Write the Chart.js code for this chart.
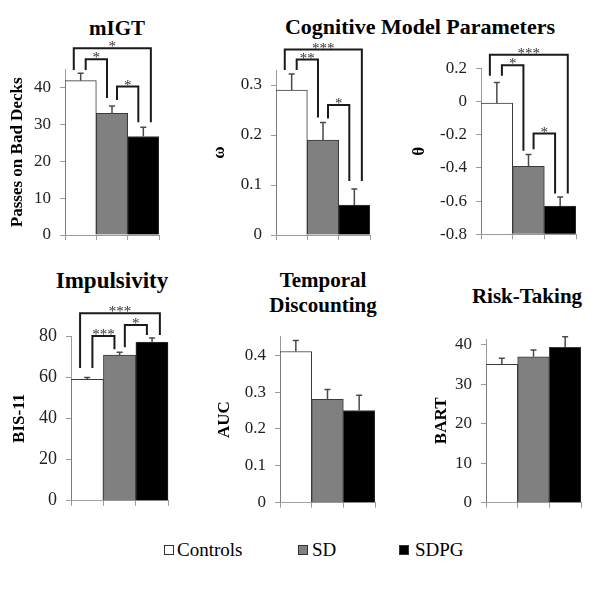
<!DOCTYPE html>
<html>
<head>
<meta charset="utf-8">
<script src="https://cdn.jsdelivr.net/npm/chart.js@4.4.0/dist/chart.umd.min.js"></script>
<style>
body { margin: 0; background: #fff; }
#page { position: relative; width: 600px; height: 600px; font-family: "Liberation Serif", "Times New Roman", serif; overflow: hidden; }
canvas { position: absolute; }
.title { position: absolute; font-weight: bold; color: #000; white-space: nowrap; line-height: 1; transform: translateX(-50%); }
.legtext { position: absolute; font-size: 19px; line-height: 1; color: #000; }
.swatch { position: absolute; width: 8px; height: 8px; border: 1px solid #333; }
</style>
</head>
<body>
<div id="page">
  <div class="title" style="left:117px; top:18px; font-size:21px;">mIGT</div>
  <div class="title" style="left:420px; top:16px; font-size:22px;">Cognitive Model Parameters</div>
  <div class="title" style="left:112px; top:269px; font-size:23px;">Impulsivity</div>
  <div class="title" style="left:323px; top:270px; font-size:21px;">Temporal</div>
  <div class="title" style="left:323px; top:295px; font-size:21px;">Discounting</div>
  <div class="title" style="left:527px; top:286px; font-size:21px;">Risk-Taking</div>

  <canvas id="igt"></canvas>
  <canvas id="omega"></canvas>
  <canvas id="theta"></canvas>
  <canvas id="bis"></canvas>
  <canvas id="auc"></canvas>
  <canvas id="bart"></canvas>

  <div class="swatch" style="left:164px; top:545px; background:#fff;"></div>
  <div class="legtext" style="left:177px; top:540px;">Controls</div>
  <div class="swatch" style="left:298px; top:545px; background:#808080;"></div>
  <div class="legtext" style="left:312px; top:540px;">SD</div>
  <div class="swatch" style="left:399px; top:545px; background:#000;"></div>
  <div class="legtext" style="left:415px; top:540px;">SDPG</div>
</div>

<script>
const groups = ['Controls', 'SD', 'SDPG'];
const barColors = ['#ffffff', '#808080', '#000000'];

// mIGT
const igtMeans = [42, 33.1, 26.8];
const igtErrors = [2.0, 2.0, 2.5];
const igtTicks = [0, 10, 20, 30, 40];
const igtRange = [0, 45];
const igtBrackets = [[0, 2, 50.8, 44.9, 30.7, '*'], [0, 1, 47.8, 44.9, 37.3, '*'], [1, 2, 40.4, 36.7, 30.7, '*']];

// omega
const omegaMeans = [0.29, 0.19, 0.06];
const omegaErrors = [0.032, 0.035, 0.032];
const omegaTicks = [0, 0.1, 0.2, 0.3];
const omegaRange = [0, 0.33];
const omegaBrackets = [[0, 2, 0.371, 0.33, 0.108, '***'], [0, 1, 0.351, 0.33, 0.235, '**'], [1, 2, 0.26, 0.233, 0.108, '*']];

// theta
const thetaMeans = [-0.01, -0.39, -0.63];
const thetaErrors = [0.125, 0.07, 0.055];
const thetaTicks = [-0.8, -0.6, -0.4, -0.2, 0, 0.2];
const thetaRange = [-0.8, 0.2];
const thetaBrackets = [[0, 2, 0.281, 0.155, -0.554, '***'], [0, 1, 0.219, 0.155, -0.297, '*'], [1, 2, -0.193, -0.287, -0.554, '*']];

// BIS-11
const bisMeans = [59, 70.7, 77];
const bisErrors = [0.8, 1.4, 2.0];
const bisTicks = [0, 20, 40, 60, 80];
const bisRange = [0, 80];
const bisBrackets = [[0, 2, 91, 64.4, 80.5, '***'], [0, 1, 80, 64.4, 73.6, '***'], [1, 2, 85.4, 74.5, 80.5, '*']];

// AUC
const aucMeans = [0.41, 0.28, 0.25];
const aucErrors = [0.03, 0.027, 0.041];
const aucTicks = [0, 0.1, 0.2, 0.3, 0.4];
const aucRange = [0, 0.45];

// BART
const bartMeans = [35.1, 37, 39.4];
const bartErrors = [1.5, 1.7, 2.7];
const bartTicks = [0, 10, 20, 30, 40];
const bartRange = [0, 41.5];

const serif = '"Liberation Serif", "Times New Roman", serif';
const axisColor = '#9a9a9a';

const errorBars = {
    id: 'errorBars',
    afterDatasetsDraw(chart, args, opts) {
        const ctx = chart.ctx;
        const y = chart.scales.y;
        const values = chart.data.datasets[0].data;
        ctx.save();
        ctx.strokeStyle = '#4a4a4a';
        ctx.lineWidth = 1.5;
        chart.getDatasetMeta(0).data.forEach((bar, i) => {
            const top = y.getPixelForValue(values[i] + opts.errors[i]);
            ctx.beginPath();
            ctx.moveTo(bar.x, bar.y);
            ctx.lineTo(bar.x, top);
            ctx.moveTo(bar.x - 3, top);
            ctx.lineTo(bar.x + 3, top);
            ctx.stroke();
        });
        ctx.restore();
    }
};

const brackets = {
    id: 'brackets',
    afterDatasetsDraw(chart, args, opts) {
        if (!opts.list) return;
        const ctx = chart.ctx;
        const x = chart.scales.x, y = chart.scales.y;
        const w = x.getPixelForValue(1) - x.getPixelForValue(0);
        ctx.save();
        ctx.strokeStyle = '#1a1a1a';
        ctx.lineWidth = 2;
        ctx.fillStyle = '#333';
        ctx.font = '15px ' + serif;
        ctx.textAlign = 'center';
        opts.list.forEach(([a, b, top, endA, endB, stars]) => {
            // outer bracket sits outside the inner ones
            const outer = b - a > 1;
            const xa = x.getPixelForValue(a) + (outer ? -0.22 : 0.16) * w;
            const xb = x.getPixelForValue(b) + (outer ? 0.24 : -0.16) * w;
            const yt = y.getPixelForValue(top);
            ctx.beginPath();
            ctx.moveTo(xa, y.getPixelForValue(endA));
            ctx.lineTo(xa, yt);
            ctx.lineTo(xb, yt);
            ctx.lineTo(xb, y.getPixelForValue(endB));
            ctx.stroke();
            ctx.fillText(stars, (xa + xb) / 2, yt + 3);
        });
        ctx.restore();
    }
};

// fixed box sizes so the plot areas land where the original ones are
function fixBox(s, size) {
    if (s.isHorizontal()) s.height = size; else s.width = size;
    s.paddingTop = 0;
    s.paddingBottom = 0;
    s.paddingLeft = 0;
    s.paddingRight = 0;
}

function makePanel(id, p) {
    const canvas = document.getElementById(id);
    canvas.width = p.box[2];
    canvas.height = p.box[3];
    canvas.style.left = p.box[0] + 'px';
    canvas.style.top = p.box[1] + 'px';
    canvas.style.width = p.box[2] + 'px';
    canvas.style.height = p.box[3] + 'px';

    return new Chart(canvas, {
        type: 'bar',
        data: {
            labels: groups,
            datasets: [{
                data: p.means,
                backgroundColor: barColors,
                borderColor: '#3a3a3a',
                borderWidth: 1,
                barPercentage: 1,
                categoryPercentage: 1,
                base: p.range[0]
            }]
        },
        options: {
            responsive: false,
            animation: false,
            layout: { padding: { top: p.padTop, right: p.padRight, left: 0, bottom: 0 } },
            plugins: {
                legend: { display: false },
                tooltip: { enabled: false },
                errorBars: { errors: p.errors },
                brackets: { list: p.brackets }
            },
            scales: {
                x: {
                    grid: { drawOnChartArea: false, tickLength: 5, color: axisColor },
                    border: { color: axisColor },
                    ticks: { display: false },
                    afterFit: s => fixBox(s, p.xHeight)
                },
                y: {
                    min: p.range[0],
                    max: p.range[1],
                    grid: { drawOnChartArea: false, tickLength: 5, color: axisColor },
                    border: { color: axisColor },
                    ticks: { color: '#222', padding: 9, font: { family: serif, size: p.tickSize || 17 } },
                    afterBuildTicks: s => { s.ticks = p.ticks.map(v => ({ value: v })); },
                    afterFit: s => fixBox(s, p.yWidth),
                    title: {
                        display: true,
                        text: p.label,
                        color: '#000',
                        font: { family: serif, size: 17, weight: 'bold' },
                        padding: { top: p.titlePad, bottom: 0 }
                    }
                }
            }
        },
        plugins: [errorBars, brackets]
    });
}

makePanel('igt', { box: [0, 0, 165, 245], padTop: 69.6, padRight: 6, xHeight: 10, yWidth: 65, titlePad: 7.8,
    means: igtMeans, errors: igtErrors, ticks: igtTicks, range: igtRange, brackets: igtBrackets, label: 'Passes on Bad Decks' });
makePanel('omega', { box: [200, 0, 175, 245], padTop: 70, padRight: 5, xHeight: 10, yWidth: 76, titlePad: 9.8,
    means: omegaMeans, errors: omegaErrors, ticks: omegaTicks, range: omegaRange, brackets: omegaBrackets, label: 'ω' });
makePanel('theta', { box: [405, 0, 180, 245], padTop: 68.3, padRight: 9, xHeight: 10.7, yWidth: 76, titlePad: 4.8,
    means: thetaMeans, errors: thetaErrors, ticks: thetaTicks, range: thetaRange, brackets: thetaBrackets, label: 'θ' });
makePanel('bis', { box: [0, 300, 175, 210], padTop: 36, padRight: 6.7, xHeight: 9.3, yWidth: 71, titlePad: 9.8, tickSize: 18,
    means: bisMeans, errors: bisErrors, ticks: bisTicks, range: bisRange, brackets: bisBrackets, label: 'BIS-11' });
makePanel('auc', { box: [205, 320, 180, 192], padTop: 16.7, padRight: 10, xHeight: 9.3, yWidth: 75, titlePad: 9.8,
    means: aucMeans, errors: aucErrors, ticks: aucTicks, range: aucRange, label: 'AUC' });
makePanel('bart', { box: [420, 320, 170, 192], padTop: 19, padRight: 9, xHeight: 9.3, yWidth: 66, titlePad: 11.5,
    means: bartMeans, errors: bartErrors, ticks: bartTicks, range: bartRange, label: 'BART' });
</script>
</body>
</html>
